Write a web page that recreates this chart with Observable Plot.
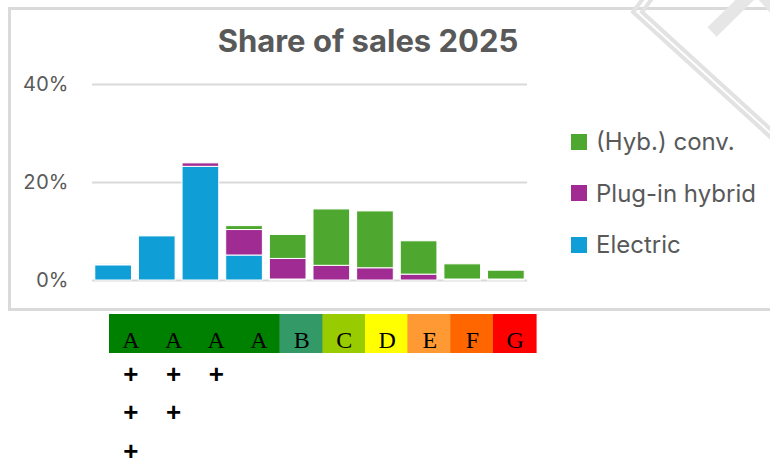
<!DOCTYPE html>
<html><head><meta charset="utf-8">
<script src="https://cdn.jsdelivr.net/npm/d3@7"></script>
<script src="https://cdn.jsdelivr.net/npm/@observablehq/plot@0.6"></script>
<style>
html,body{margin:0;padding:0;background:#fff;}
#wrap{position:relative;width:770px;height:460px;overflow:hidden;background:#fff;font-family:Inter,sans-serif;}
#frame{position:absolute;left:8px;top:7px;width:800px;height:298px;border:3px solid #dadada;}
#deco{position:absolute;left:0;top:0;}
#title{position:absolute;left:0;width:736px;top:25px;text-align:center;font:bold 31px/31px Inter,sans-serif;color:#595959;}
#legend{position:absolute;left:571px;top:116px;}
.item{display:flex;align-items:center;height:51.5px;font-size:24px;color:#595959;}
.sw{width:16px;height:16px;margin-right:9px;}
#chart{position:absolute;left:0;top:0;}
#labels{position:absolute;left:0;top:310px;}
</style></head>
<body>
<div id="wrap">
  <div id="frame"></div>
  <svg id="deco" width="770" height="460">
    <polyline points="645,-4 633,12 778,144" fill="none" stroke="#e2e2e2" stroke-width="4"/>
    <polyline points="654,-4 642,12 778,136" fill="none" stroke="#e2e2e2" stroke-width="4"/>
    <polyline points="712,32 757,-12 792,28" fill="none" stroke="#e6e6e6" stroke-width="13"/>
  </svg>
  <div id="chart"></div>
  <div id="title">Share of sales 2025</div>
  <div id="legend"></div>
  <div id="labels"></div>
</div>
<script>
// Bar chart data (share of sales, %)
const categories = ["A+++","A++","A+","A","B","C","D","E","F","G"];
const seriesNames = ["Electric","Plug-in hybrid","(Hyb.) conv."];
const seriesColors = ["#0F9ED5","#A02B93","#4EA72E"];
const electric = [3.1, 9.0, 23.2, 5.1, 0.2, 0, 0, 0, 0, 0];
const pluginHybrid = [0, 0, 0.7, 5.2, 4.2, 3.0, 2.5, 1.2, 0.2, 0.2];
const hybConv = [0.2, 0, 0, 0.8, 4.9, 11.5, 11.6, 6.8, 3.1, 1.8];
const yTicks = [0, 20, 40];
const legendOrder = ["(Hyb.) conv.","Plug-in hybrid","Electric"];

// Energy label table
const labelLetters = ["A","A","A","A","B","C","D","E","F","G"];
const labelColors = ["#008000","#008000","#008000","#008000","#339966","#99CC00","#FFFF00","#FF9933","#FF6600","#FF0000"];
const plusCounts = [3,2,1,0,0,0,0,0,0,0];

const seriesValues = [electric, pluginHybrid, hybConv];
const data = categories.flatMap((c,i)=>seriesNames.map((s,j)=>({cat:c, series:s, value:seriesValues[j][i]})));

const chart = Plot.plot({
  width:770, height:310, marginLeft:92, marginRight:243, marginTop:84, marginBottom:30,
  style:{background:"transparent", fontFamily:"Inter, sans-serif", fontSize:"20px", color:"#595959", overflow:"visible"},
  x:{domain:categories, paddingInner:0.16, paddingOuter:0.064, round:false, axis:null},
  y:{domain:[0,40], ticks:yTicks, tickFormat:d=>d+"%", tickSize:0, tickPadding:24, label:null},
  color:{domain:seriesNames, range:seriesColors},
  marks:[
    Plot.ruleY(yTicks, {stroke:"#d9d9d9", strokeWidth:2}),
    Plot.barY(data, {x:"cat", y:"value", fill:"series", order:seriesNames, stroke:"white", strokeWidth:1})
  ]
});
document.getElementById("chart").append(chart);

const legend = document.getElementById("legend");
legendOrder.forEach(name=>{
  const it = document.createElement("div"); it.className="item";
  const sw = document.createElement("div"); sw.className="sw";
  sw.style.background = seriesColors[seriesNames.indexOf(name)];
  const tx = document.createElement("span"); tx.textContent = name;
  it.append(sw, tx); legend.append(it);
});

const idx = labelLetters.map((_,i)=>i);
const cells = idx.map(i=>({i, letter:labelLetters[i], color:labelColors[i], row:0}));
const pluses = idx.flatMap(i=>d3.range(1, plusCounts[i]+1).map(r=>({i, row:r})));
const labels = Plot.plot({
  width:770, height:150, marginLeft:109, marginRight:234, marginTop:4, marginBottom:0,
  style:{background:"transparent", overflow:"visible"},
  x:{type:"band", domain:idx, padding:0, round:false, axis:null},
  y:{type:"band", domain:[0,1,2,3], range:[4,158], padding:0, round:false, axis:null},
  marks:[
    Plot.cell(cells, {x:"i", y:"row", fill:"color", stroke:"color", strokeWidth:0.6, shapeRendering:"crispEdges", inset:0}),
    Plot.text(cells, {x:"i", y:"row", text:"letter", fontFamily:"Liberation Serif, Times New Roman, serif", fontSize:24, fill:"black", lineAnchor:"bottom", dy:14}),
    Plot.text(pluses, {x:"i", y:"row", text:()=>"+", fontFamily:"Liberation Sans, Arial, sans-serif", fontWeight:"bold", fontSize:26, fill:"black", lineAnchor:"middle", dy:2})
  ]
});
document.getElementById("labels").append(labels);
</script>
</body></html>
